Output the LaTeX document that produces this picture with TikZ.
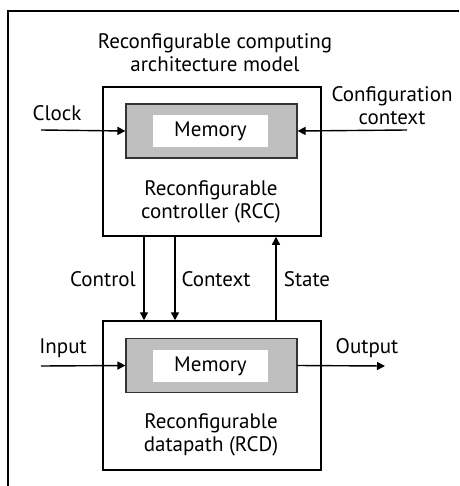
\documentclass[tikz,border=0pt]{standalone}
\usepackage{fontspec}
\setmainfont{PT Sans}
\usetikzlibrary{arrows.meta}
\tikzset{
  blk/.style={draw=black, line width=1.5pt, fill=white, minimum width=218pt, minimum height=149pt, inner sep=0pt},
  graybox/.style={draw=black!80, line width=1.1pt, fill=black!25, minimum width=171pt, minimum height=54pt, inner sep=0pt},
  whitebox/.style={fill=white, minimum width=115pt, minimum height=32pt, inner sep=0pt, font=\fontsize{21}{23}\selectfont},
  lbl/.style={font=\fontsize{21}{23}\selectfont, align=center, inner sep=0pt},
  arr/.style={line width=1.4pt, -{Triangle[length=8pt,width=8pt]}},
  frame/.style={line width=1.6pt}
}
\begin{document}
\begin{tikzpicture}[x=1pt,y=-1pt]
\useasboundingbox (0,0) rectangle (459,486);
\draw[frame] (459,11) -- (8,11) -- (8,486);
\node[lbl] (title) at (215,53) {Reconfigurable computing\\architecture model};
% RCC
\node[blk] (rcc) at (212,161.5) {};
\node[graybox] (g1) at (211.5,131) {};
\node[whitebox] (m1) at (210.5,131) {Memory};
\node[lbl] (rcct) at (211,202) {Reconfigurable\\controller (RCC)};
% RCD
\node[blk] (rcd) at (212,395.5) {};
\node[graybox] (g2) at (211.5,365.5) {};
\node[whitebox] (m2) at (210.5,366) {Memory};
\node[lbl] (rcdt) at (211,435) {Reconfigurable\\datapath (RCD)};
% inputs
\coordinate (clk) at (41,130);
\coordinate (cfg) at (407,130);
\coordinate (inp) at (41,366);
\coordinate (outp) at (385,366);
\node[lbl] (clkl) at (57,113) {Clock};
\node[lbl] (cfgl) at (392,106) {Configuration\\context};
\node[lbl] (inl) at (63,348) {Input};
\node[lbl] (outl) at (367,348) {Output};
\draw[arr] (clk) -- (g1.west);
\draw[arr] (cfg) -- (g1.east);
\draw[arr] (inp) -- (g2.west);
\draw[arr] (g2.east) -- (outp);
% vertical links
\draw[arr] (rcc.south -| 144,0) -- (rcd.north -| 144,0);
\draw[arr] (rcc.south -| 175,0) -- (rcd.north -| 175,0);
\draw[arr] (rcd.north -| 276,0) -- (rcc.south -| 276,0);
\node[lbl] (ctl) at (103,279) {Control};
\node[lbl] (ctx) at (216,279) {Context};
\node[lbl] (st) at (307,279) {State};
\end{tikzpicture}
\end{document}
